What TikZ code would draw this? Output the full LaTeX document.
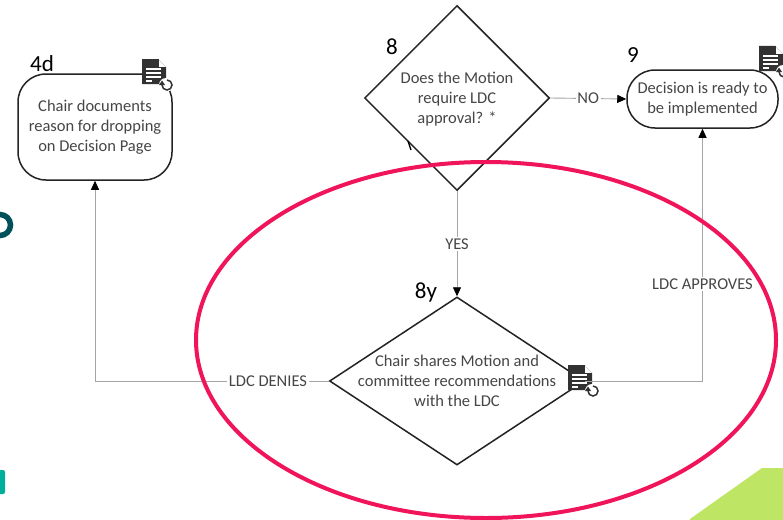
\documentclass[tikz,border=0pt]{standalone}
\usepackage{fontspec}
\setmainfont{Carlito}
\usetikzlibrary{shapes.geometric,arrows.meta}
\definecolor{txtgray}{RGB}{70,70,70}
\definecolor{conngray}{RGB}{165,165,165}
\definecolor{outline}{RGB}{35,35,35}
\definecolor{hotpink}{RGB}{240,20,90}
\definecolor{limegreen}{RGB}{190,229,100}
\definecolor{darkteal}{RGB}{0,80,90}
\definecolor{brightteal}{RGB}{0,175,155}
\definecolor{icongray}{RGB}{50,50,50}
\tikzset{
  x=1pt, y=-1pt,
  stepbox/.style={draw=outline, line width=1.5pt, fill=white, rounded corners=28pt, inner sep=0pt},
  dia/.style={draw=outline, line width=1.5pt, fill=white, diamond, inner sep=0pt, shape aspect=1},
  body/.style={text=txtgray, font=\fontsize{16.5}{20}\selectfont, align=center, inner sep=0pt},
  num/.style={text=black, font=\fontsize{23}{26}\selectfont, inner sep=0pt},
  lab/.style={text=txtgray, font=\fontsize{16.5}{18}\selectfont, fill=white, inner sep=1.5pt},
  conn/.style={draw=conngray, line width=0.9pt, -{Triangle[length=9pt,width=8pt,color=black]}},
  docicon/.pic={
    \fill[icongray] (0,0) -- (16,0) -- (24,8) -- (24,25) -- (0,25) -- cycle;
    \fill[white] (16,0) -- (16,8) -- (24,8) -- cycle;
    \draw[icongray, line width=0.6pt] (16,0) -- (16,8) -- (24,8);
    \foreach \yy in {10,14,18}{\draw[white, line width=1.2pt] (4,\yy) -- (19,\yy);}
    \draw[white, line width=1.2pt] (4,22) -- (10,22);
    \fill[white] (24,26) circle (7);
    \draw[icongray, line width=1.5pt] (20,26) arc[start angle=180, end angle=-90, radius=5];
    \fill[icongray] (17,26) -- (23,26) -- (20,21.5) -- cycle;
  }
}
\begin{document}
\begin{tikzpicture}
\useasboundingbox (0,0) rectangle (783,519);
\fill[white] (0,0) rectangle (783,519);

% edge fragments
\draw[darkteal, line width=5.5pt] (0,225) circle (10.5);
\fill[brightteal, rounded corners=2pt] (-5,470) rectangle (5,494);
\fill[limegreen] (690,519) -- (762,468) -- (790,468) -- (790,525) -- (690,525) -- cycle;

% nodes
\node[stepbox, minimum width=154pt, minimum height=106pt] (b4d) at (95,127) {};
\node[body] (b4dt) at (b4d) {Chair documents\\reason for dropping\\on Decision Page};
\node[num] (n4d) at (42,64) {4d};
\pic at (142,59) {docicon};

\node[dia, minimum width=185pt, minimum height=185pt] (d8) at (457,98) {};
\node[body] (d8t) at (457,99) {Does the Motion\\require LDC\\approval? *};
\node[num] (n8) at (392,47) {8};

\node[stepbox, minimum width=151pt, minimum height=58pt] (b9) at (702.5,99) {};
\node[body] (b9t) at (b9) {Decision is ready to\\be implemented};
\node[num] (n9) at (633,55) {9};
\pic at (759,46) {docicon};

\node[dia, minimum width=255pt, minimum height=168pt] (d8y) at (457,381) {};
\node[body] (d8yt) at (457,381) {Chair shares Motion and\\committee recommendations\\with the LDC};
\node[num] (n8y) at (426,292) {8y};
\pic at (568,365) {docicon};

% small mark
\draw[black, line width=1.3pt] (408,141) -- (411,150);

% connectors
\draw[conn] (d8.east) -- node[lab]{NO} (b9.west);
\draw[conn] (d8.south) -- node[lab]{YES} (d8y.north);
\draw[conn] (d8y.west) -- node[lab, pos=0.26]{LDC DENIES} (d8y.west -| b4d.south) -- (b4d.south);
\draw[conn] (d8y.east) -- (d8y.east -| b9.south) -- node[lab, pos=0.385]{LDC APPROVES} (b9.south);

% highlight
\draw[hotpink, line width=4pt] (486,340) ellipse[x radius=290, y radius=178];
\end{tikzpicture}
\end{document}
